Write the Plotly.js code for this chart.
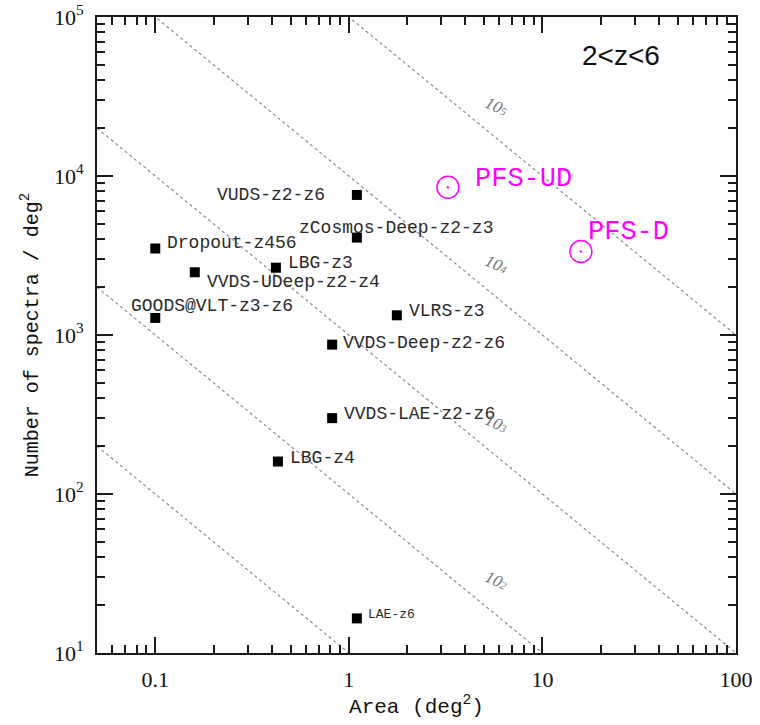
<!DOCTYPE html>
<html><head><meta charset="utf-8">
<script src="https://cdn.plot.ly/plotly-3.0.1.min.js"></script>
<style>html,body{margin:0;padding:0;background:#fff}</style>
</head><body><div id="chart" style="width:760px;height:725px"></div>
<script>
// ---- data ----
const surveyNames = ["VUDS-z2-z6","zCosmos-Deep-z2-z3","Dropout-z456","LBG-z3","VVDS-UDeep-z2-z4",
  "GOODS@VLT-z3-z6","VLRS-z3","VVDS-Deep-z2-z6","VVDS-LAE-z2-z6","LBG-z4","LAE-z6"];
const surveyArea = [1.1, 1.1, 0.1, 0.42, 0.16, 0.1, 1.77, 0.82, 0.82, 0.43, 1.1];
const surveyDensity = [7600, 4100, 3500, 2650, 2480, 1280, 1330, 870, 300, 160, 16.5];
const pfsNames = ["PFS-UD","PFS-D"];
const pfsArea = [3.25, 15.8];
const pfsDensity = [8500, 3350];
// constant total-number lines N*Area = total
const totalSpectra = [1e1, 1e2, 1e3, 1e4, 1e5];
const areaEnds = [0.05, 100];
// labels of the constant lines
const totalLabelText = ["10<span style='font-size:11px'>2</span>","10<span style='font-size:11px'>3</span>",
  "10<span style='font-size:11px'>4</span>","10<span style='font-size:11px'>5</span>"];
const totalLabelArea = [5.8, 5.8, 5.8, 5.8];
const totalLabelDensity = [28.7, 277, 2790, 27300];
const xTickVals = [0.1, 1, 10, 100];
const xTickText = ["0.1","1","10","100"];
const yTickVals = [1e1, 1e2, 1e3, 1e4, 1e5];
const yTickText = ["10<sup>1</sup>","10<sup>2</sup>","10<sup>3</sup>","10<sup>4</sup>","10<sup>5</sup>"];

// ---- label placement (pixels) ----
const surveyLabelAnchor = ["right","left","left","left","left","left","left","left","left","left","left"];
const surveyLabelDx = [-30, -60, 10, 10, 10, -26, 10, 9, 10, 10, 9];
const surveyLabelDy = [0, 10, 5, 5, -10, 12, 4, 2, 4, 4, 4];
const surveyLabelSize = [18,18,18,18,18,18,18,18,18,18,13];
const pfsLabelDx = [25, 5];
const pfsLabelDy = [8, 20];

const mono = "Liberation Mono, Courier New, monospace";
const serif = "Liberation Serif, DejaVu Serif, serif";

const xRange = [Math.log10(0.05), 2];
const yRange = [1, 5];

function minorVals(lo, hi) {
  const v = [];
  for (let d = lo; d <= hi; d++) for (let m = 2; m <= 9; m++) v.push(m * Math.pow(10, d));
  return v;
}

const traces = [];
totalSpectra.forEach(t => {
  traces.push({x: areaEnds, y: areaEnds.map(a => t / a), mode: "lines", type: "scatter",
    line: {color: "#8a8a8a", width: 1.2, dash: "dot"}, hoverinfo: "skip", showlegend: false});
});
traces.push({x: surveyArea, y: surveyDensity, mode: "markers", type: "scatter",
  marker: {symbol: "square", size: 10, color: "#000"}, showlegend: false});
traces.push({x: pfsArea, y: pfsDensity, mode: "markers", type: "scatter",
  marker: {symbol: "circle-open-dot", size: 22, color: "#ff00ff", line: {width: 1.5, color: "#ff00ff"}},
  showlegend: false});

const annotations = [];
surveyNames.forEach((n, i) => annotations.push({
  x: Math.log10(surveyArea[i]), y: Math.log10(surveyDensity[i]), xref: "x", yref: "y",
  text: n, showarrow: false, xanchor: surveyLabelAnchor[i], yanchor: "middle",
  xshift: surveyLabelDx[i], yshift: surveyLabelDy[i],
  font: {family: mono, size: surveyLabelSize[i], color: "#2a2a2a"}}));
pfsNames.forEach((n, i) => annotations.push({
  x: Math.log10(pfsArea[i]), y: Math.log10(pfsDensity[i]), xref: "x", yref: "y",
  text: n, showarrow: false, xanchor: "left", yanchor: "middle",
  xshift: pfsLabelDx[i], yshift: pfsLabelDy[i],
  font: {family: mono, size: 27, color: "#ff00ff"}}));
totalLabelText.forEach((t, i) => annotations.push({
  x: Math.log10(totalLabelArea[i]), y: Math.log10(totalLabelDensity[i]), xref: "x", yref: "y",
  text: t, showarrow: false, textangle: 24,
  font: {family: serif, size: 17, color: "#777", style: "italic"}}));
annotations.push({x: 0.82, y: 0.94, xref: "paper", yref: "paper", xanchor: "center", yanchor: "middle",
  text: "2&lt;z&lt;6", showarrow: false,
  font: {family: "Liberation Sans, Arial, sans-serif", size: 28, color: "#111"}});

const layout = {
  width: 760, height: 725,
  margin: {l: 97, r: 24, t: 17, b: 72},
  paper_bgcolor: "#fff", plot_bgcolor: "#fff",
  showlegend: false,
  xaxis: {type: "log", range: xRange, showgrid: false, zeroline: false,
    showline: true, linecolor: "#1a1a1a", linewidth: 2, mirror: "allticks",
    ticks: "inside", ticklen: 16, tickwidth: 2, tickcolor: "#1a1a1a",
    tickmode: "array", tickvals: xTickVals, ticktext: xTickText, ticklabelstandoff: 6,
    tickfont: {family: serif, size: 22, color: "#111"},
    minor: {ticks: "inside", tickmode: "array", tickvals: minorVals(-2, 1), ticklen: 8,
      tickwidth: 2, tickcolor: "#1a1a1a", showgrid: false},
    title: {text: "Area (deg<sup>2</sup>)", standoff: 6, font: {family: mono, size: 21, color: "#111"}}},
  yaxis: {type: "log", range: yRange, showgrid: false, zeroline: false,
    showline: true, linecolor: "#1a1a1a", linewidth: 2, mirror: "allticks",
    ticks: "inside", ticklen: 16, tickwidth: 2, tickcolor: "#1a1a1a",
    tickmode: "array", tickvals: yTickVals, ticktext: yTickText, ticklabelstandoff: 7,
    tickfont: {family: serif, size: 22, color: "#111"},
    minor: {ticks: "inside", tickmode: "array", tickvals: minorVals(1, 4), ticklen: 8,
      tickwidth: 2, tickcolor: "#1a1a1a", showgrid: false},
    title: {text: "Number of spectra / deg<sup>2</sup>", standoff: 10, font: {family: mono, size: 20, color: "#111"}}},
  annotations: annotations
};

Plotly.newPlot("chart", traces, layout, {displayModeBar: false});
</script></body></html>
